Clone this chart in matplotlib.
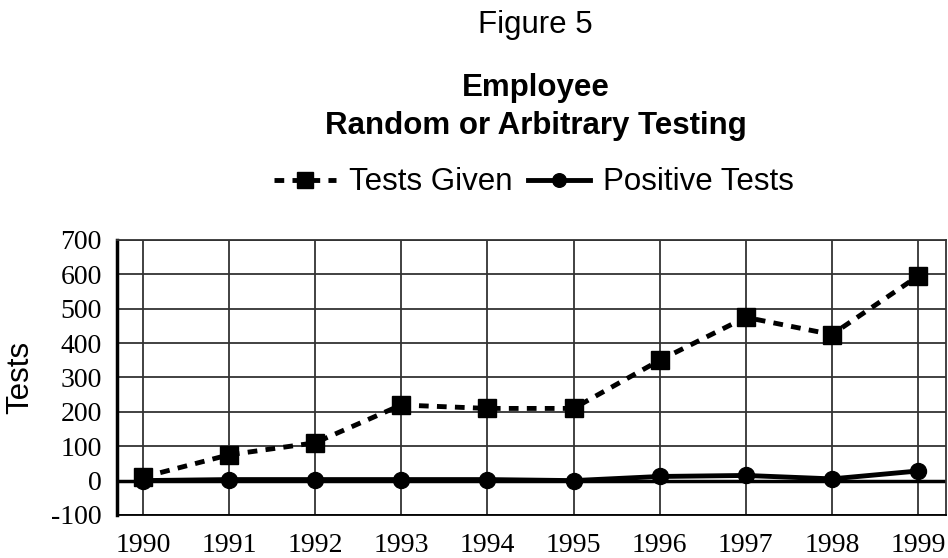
import matplotlib
matplotlib.use("Agg")
from matplotlib import pyplot as plt

years = [1990, 1991, 1992, 1993, 1994, 1995, 1996, 1997, 1998, 1999]
tests_given = [10, 75, 110, 220, 210, 210, 350, 475, 425, 595]
positive_tests = [0, 3, 3, 3, 3, 0, 12, 15, 5, 28]
yticks = [-100, 0, 100, 200, 300, 400, 500, 600, 700]

plt.rcParams["axes.unicode_minus"] = False

fig = plt.figure(figsize=(9.48, 5.58), dpi=100)
ax = fig.add_axes([0.1234, 0.0771, 0.875, 0.4928])

ax.set_xlim(1989.7, 1999.33)
ax.set_ylim(-100, 700)
ax.set_xticks(years)
ax.set_yticks(yticks)
ax.grid(True, color="#333333", linewidth=1.3)
ax.set_axisbelow(True)
ax.axhline(0, color="black", linewidth=2.5, zorder=2)

ax.plot(years, tests_given, color="black", linestyle=(0, (2.0, 1.7)), linewidth=3.5,
		marker="s", markersize=13, label="Tests Given", zorder=3)
ax.plot(years, positive_tests, color="black", linestyle="-", linewidth=3.5,
		marker="o", markersize=11.5, label="Positive Tests", zorder=3)

for side in ["top", "right"]:
	ax.spines[side].set_linewidth(1.3)
	ax.spines[side].set_color("#333333")
ax.spines["left"].set_linewidth(2.5)
ax.spines["bottom"].set_linewidth(1.3)
ax.tick_params(length=0, pad=11)
for lbl in ax.get_xticklabels() + ax.get_yticklabels():
	lbl.set_fontfamily("Liberation Serif")
	lbl.set_fontsize(20)
ax.tick_params(axis="x", pad=13)

ax.set_ylabel("Tests", fontfamily="Liberation Sans", fontsize=22.5)
ax.yaxis.set_label_coords(-0.098, 0.5)

fig.text(0.565, 0.955, "Figure 5", ha="center", va="center",
		fontfamily="Liberation Sans", fontsize=22.5)
fig.text(0.565, 0.842, "Employee", ha="center", va="center",
		fontfamily="Liberation Sans", fontsize=22.5, fontweight="bold")
fig.text(0.565, 0.775, "Random or Arbitrary Testing", ha="center", va="center",
		fontfamily="Liberation Sans", fontsize=22.5, fontweight="bold")

fig.legend(loc="center", bbox_to_anchor=(0.563, 0.673), ncol=2, frameon=False,
		prop={"family": "Liberation Sans", "size": 22.5}, handlelength=2.0,
		columnspacing=0.5, handletextpad=0.4, markerscale=0.85)

fig.savefig("out.png", dpi=100)
